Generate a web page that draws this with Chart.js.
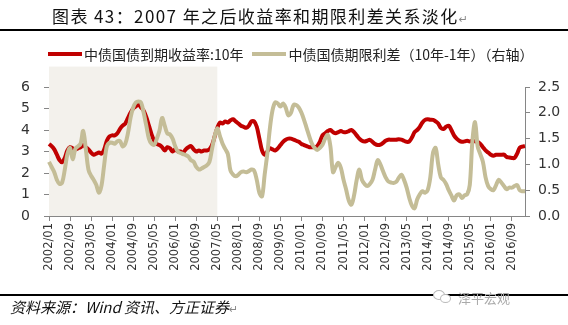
<!DOCTYPE html>
<html><head><meta charset="utf-8">
<script src="https://cdn.jsdelivr.net/npm/chart.js@4.4.1/dist/chart.umd.min.js"></script>
<style>
html,body{margin:0;padding:0;background:#fff;width:568px;height:325px;overflow:hidden;}
#wrap{position:relative;width:568px;height:325px;}
#c{position:absolute;left:0;top:0;}
.title{position:absolute;left:52px;top:3px;font:17px "Noto Sans CJK SC";letter-spacing:1.4px;color:#111;white-space:nowrap;}
.rule{position:absolute;left:0;width:568px;height:2px;background:#000;}
.legend{position:absolute;top:44px;left:48px;font:14px "Noto Sans CJK SC";color:#222;white-space:nowrap;display:flex;align-items:center;}
.legend .sw{display:inline-block;width:34px;height:4px;margin-right:2px;}
.legend .item{display:flex;align-items:center;margin-right:9px;}
.foot{position:absolute;left:10px;top:296px;font:italic 15px "Noto Sans CJK SC";color:#111;white-space:nowrap;}
.wm{position:absolute;left:458px;top:288px;font:13px "Noto Sans CJK SC";color:#aaa;white-space:nowrap;}
.ic{position:absolute;border:1px solid #bbb;border-radius:50%;background:#fff;}
.ret{font:11px "DejaVu Sans";color:#888;letter-spacing:0;}
</style></head>
<body><div id="wrap">
<canvas id="c" width="568" height="325"></canvas>
<div class="title">图表 43：2007 年之后收益率和期限利差关系淡化<span class="ret">↵</span></div>
<div class="rule" style="top:29px"></div>
<div class="legend">
  <span class="item"><span class="sw" style="background:#C00000"></span><span>中债国债到期收益率:10年</span></span>
  <span class="item"><span class="sw" style="background:#C4BD97"></span><span>中债国债期限利差（10年-1年）（右轴）</span></span>
</div>
<div class="rule" style="top:294px"></div>
<div class="foot">资料来源：Wind 资讯、方正证券<span class="ret">↵</span></div>
<div class="ic" style="left:433px;top:290px;width:10px;height:8px;"></div>
<div class="ic" style="left:440px;top:294px;width:9px;height:7px;"></div>
<div class="wm">泽平宏观</div>
</div>
<script>
// ---- data ----
const startYear = 2002, startMonth = 1, monthCount = 182;
const months = [];
for (let k = 0; k < monthCount; k++) {
  const y = startYear + Math.floor((startMonth - 1 + k) / 12);
  const m = (startMonth - 1 + k) % 12 + 1;
  months.push(y + '/' + String(m).padStart(2, '0'));
}
const yield10y = [
3.35,3.25,3.1,2.85,2.6,2.5,2.7,3.05,3.2,3.15,3.1,3.15,3.2,3.3,3.2,3.1,2.95,2.85,2.9,2.95,
2.9,3.1,3.5,3.7,3.75,3.75,3.85,4.05,4.2,4.3,4.55,4.8,5.0,5.1,5.2,5.05,4.9,4.6,4.2,3.8,
3.5,3.35,3.3,3.2,3.05,3.2,3.15,3.0,3.1,3.0,3.0,2.95,3.1,3.2,3.25,3.1,3.0,3.05,3.0,3.05,
3.05,3.1,3.3,3.7,4.1,4.35,4.3,4.4,4.35,4.45,4.5,4.4,4.3,4.2,4.15,4.1,4.2,4.4,4.4,4.15,
3.6,3.05,2.85,3.0,3.15,3.1,3.05,3.15,3.3,3.45,3.55,3.6,3.6,3.55,3.5,3.45,3.35,3.3,3.25,3.2,
3.2,3.2,3.25,3.45,3.75,3.85,3.95,4.0,3.9,3.85,3.9,3.95,3.9,3.9,3.95,4.0,3.9,3.75,3.6,3.5,
3.47,3.5,3.54,3.45,3.35,3.3,3.32,3.4,3.5,3.55,3.55,3.55,3.55,3.57,3.55,3.5,3.45,3.47,3.65,3.9,
4.0,4.15,4.35,4.47,4.5,4.48,4.47,4.4,4.3,4.1,4.05,4.15,4.2,4.0,3.75,3.6,3.5,3.45,3.47,3.5,
3.47,3.5,3.47,3.45,3.35,3.2,3.05,2.95,2.85,2.8,2.85,2.85,2.85,2.85,2.75,2.72,2.7,2.7,2.9,3.18,
3.23,3.25
];
const termSpread = [
1.05,0.95,0.85,0.7,0.62,0.65,0.9,1.2,1.32,1.1,1.3,1.35,1.4,1.65,1.3,0.9,0.78,0.7,0.6,0.45,
0.6,1.0,1.35,1.42,1.42,1.4,1.45,1.45,1.35,1.4,1.6,1.9,2.1,2.2,2.22,2.2,2.0,1.75,1.5,1.4,
1.38,1.5,1.65,1.9,1.75,1.6,1.58,1.5,1.35,1.25,1.22,1.2,1.18,1.15,1.08,1.05,0.95,0.9,0.92,0.95,
0.98,1.05,1.3,1.55,1.7,1.55,1.4,1.3,1.2,0.88,0.8,0.77,0.8,0.85,0.86,0.85,0.87,0.9,0.88,0.7,
0.45,0.38,0.8,1.2,1.7,2.05,2.2,2.18,2.12,2.18,2.1,1.95,2.0,2.15,2.15,2.1,2.0,1.86,1.7,1.54,
1.4,1.32,1.28,1.32,1.38,1.5,1.57,1.35,0.85,0.95,1.03,0.93,0.7,0.51,0.3,0.22,0.4,0.7,0.9,0.7,
0.62,0.58,0.62,0.7,0.9,1.08,1.0,0.87,0.75,0.67,0.65,0.64,0.66,0.74,0.8,0.7,0.55,0.35,0.2,0.15,
0.32,0.42,0.48,0.45,0.5,0.75,1.22,1.32,1.0,0.75,0.7,0.62,0.5,0.4,0.3,0.4,0.42,0.35,0.4,0.42,
0.6,1.45,1.82,1.35,1.2,1.05,0.75,0.58,0.52,0.5,0.6,0.7,0.65,0.58,0.52,0.55,0.55,0.58,0.6,0.5,
0.48,0.48
];
const leftTicks = [0,1,2,3,4,5,6];
const rightTicks = [0,0.5,1.0,1.5,2.0,2.5];
const shadeFrom = '2002/01', shadeTo = '2007/05';
const seriesNames = ['中债国债到期收益率:10年','中债国债期限利差（10年-1年）（右轴）'];

const shadePlugin = {
  id: 'shade',
  beforeDatasetsDraw(chart) {
    const xs = chart.scales.x, ys = chart.scales.y, ca = chart.chartArea;
    const x0 = xs.getPixelForValue(months.indexOf(shadeFrom));
    const x1 = xs.getPixelForValue(months.indexOf(shadeTo));
    const top = ys.getPixelForValue(6.95);
    const ctx = chart.ctx;
    ctx.save();
    ctx.fillStyle = '#F3F1EC';
    ctx.fillRect(x0, top, x1 - x0, ca.bottom - top);
    ctx.restore();
  }
};

const axisColor = '#868686';
const tickFont = {family: 'DejaVu Sans', size: 14};
new Chart(document.getElementById('c'), {
  type: 'line',
  data: {
    labels: months,
    datasets: [
      {label: seriesNames[0], data: yield10y, yAxisID: 'y', borderColor: '#C00000', borderWidth: 4, pointRadius: 0, tension: 0.35, order: 2},
      {label: seriesNames[1], data: termSpread, yAxisID: 'y1', borderColor: '#C4BD97', borderWidth: 4, pointRadius: 0, tension: 0.35, order: 1}
    ]
  },
  options: {
    responsive: false, animation: false,
    layout: {padding: {left: 0, right: 0, top: 87, bottom: 48}},
    plugins: {legend: {display: false}, tooltip: {enabled: false}},
    scales: {
      x: {
        type: 'category',
        grid: {drawOnChartArea: false, drawTicks: true, tickLength: 5, color: axisColor},
        border: {color: axisColor},
        ticks: {autoSkip: false, maxRotation: 90, minRotation: 90, padding: 2, color: '#333', font: {family: 'DejaVu Sans', size: 11.5}},
        afterBuildTicks(s) { s.ticks = s.ticks.filter(t => t.value % 8 === 0); },
        afterFit(s) { s.height = 61; }
      },
      y: {
        position: 'left', min: 0, max: 6,
        grid: {drawOnChartArea: false, drawTicks: true, tickLength: 5, color: axisColor},
        border: {color: axisColor},
        ticks: {stepSize: 1, padding: 14, color: '#333', font: tickFont},
        afterBuildTicks(s) { s.ticks = leftTicks.map(v => ({value: v})); },
        afterFit(s) { s.width = 49; }
      },
      y1: {
        position: 'right', min: 0, max: 2.5,
        grid: {drawOnChartArea: false, drawTicks: true, tickLength: 5, color: axisColor},
        border: {color: axisColor},
        ticks: {stepSize: 0.5, padding: 8, color: '#333', font: tickFont, callback: v => Number(v).toFixed(1)},
        afterBuildTicks(s) { s.ticks = rightTicks.map(v => ({value: v})); },
        afterFit(s) { s.width = 43; }
      }
    }
  },
  plugins: [shadePlugin]
});
</script>
</body></html>
